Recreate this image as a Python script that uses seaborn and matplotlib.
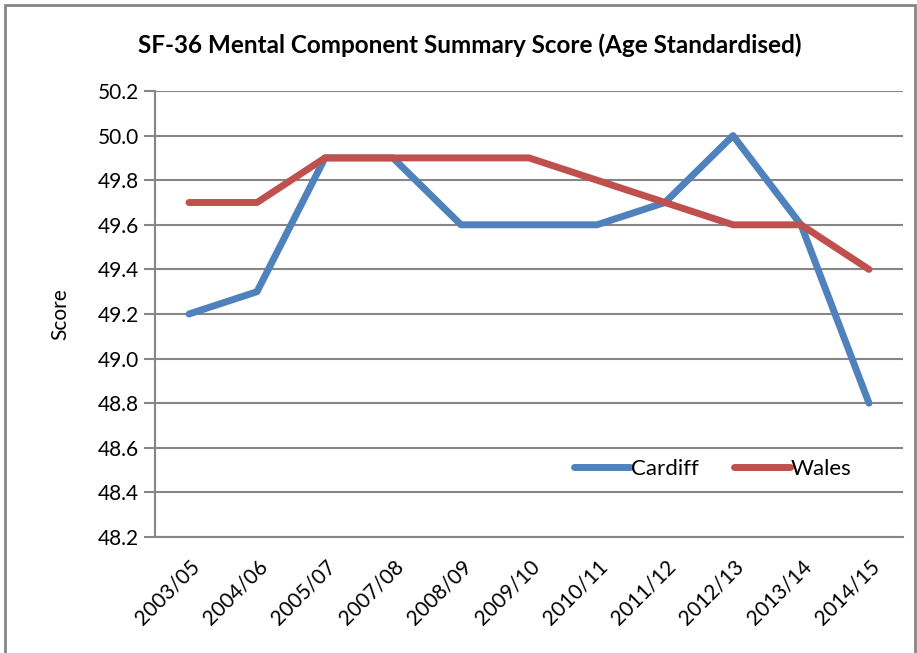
import pandas as pd
import numpy as np
import seaborn as sns
import matplotlib.pyplot as plt
from matplotlib.patches import Rectangle

# Datos del grafico
years = ['2003/05', '2004/06', '2005/07', '2007/08', '2008/09', '2009/10',
         '2010/11', '2011/12', '2012/13', '2013/14', '2014/15']
cardiff = [49.2, 49.3, 49.9, 49.9, 49.6, 49.6, 49.6, 49.7, 50.0, 49.6, 48.8]
wales = [49.7, 49.7, 49.9, 49.9, 49.9, 49.9, 49.8, 49.7, 49.6, 49.6, 49.4]
y_ticks = [48.2, 48.4, 48.6, 48.8, 49.0, 49.2, 49.4, 49.6, 49.8, 50.0, 50.2]

df = pd.DataFrame({
    'idx': list(range(len(years))) * 2,
    'Score': cardiff + wales,
    'Area': ['Cardiff'] * len(years) + ['Wales'] * len(years),
})

sns.set_style('white')
plt.rcParams['font.family'] = ['Lato', 'DejaVu Sans']
plt.rcParams['text.color'] = 'black'
plt.rcParams['xtick.color'] = 'black'
plt.rcParams['ytick.color'] = 'black'
plt.rcParams['axes.labelcolor'] = 'black'

fig = plt.figure(figsize=(9.17, 6.53), dpi=100)
ax = fig.add_axes([155 / 917, 1 - 537 / 653, 748 / 917, 446 / 653])

sns.lineplot(data=df, x='idx', y='Score', hue='Area',
             palette={'Cardiff': '#4F81BD', 'Wales': '#C0504D'},
             linewidth=5, ax=ax, solid_capstyle='round', solid_joinstyle='round')

ax.set_xlim(-0.5, len(years) - 0.5)
ax.set_ylim(48.2, 50.2)
ax.set_yticks(y_ticks)
ax.set_yticklabels([f'{v:.1f}' for v in y_ticks], fontsize=15)
ax.yaxis.grid(True, color='#868686', linewidth=1.5)
ax.set_axisbelow(True)

ax.set_xticks(range(len(years)))
ax.set_xticklabels(years, rotation=45, ha='right', rotation_mode='anchor', fontsize=15)
ax.set_xticks(np.arange(-0.5, len(years)), minor=True)
ax.tick_params(axis='x', which='major', length=0, pad=14, colors='black')
ax.tick_params(axis='x', which='minor', length=8, width=1.5, color='#868686', direction='out')
ax.tick_params(axis='y', length=8, width=1.5, color='#868686', labelcolor='black',
               direction='out', left=True)

for s in ['top', 'right']:
    ax.spines[s].set_visible(False)
for s in ['left', 'bottom']:
    ax.spines[s].set_color('#868686')
    ax.spines[s].set_linewidth(1.5)

ax.set_xlabel('')
ax.set_ylabel('Score', fontsize=15, labelpad=20)
fig.text(0.512, 1 - 45 / 653, 'SF-36 Mental Component Summary Score (Age Standardised)',
         fontsize=17.5, fontweight='bold', ha='center', va='center')

leg = ax.legend(loc='lower right', bbox_to_anchor=(0.958, 0.085), ncol=2, frameon=False,
                fontsize=16, handlelength=2.5, columnspacing=1.6, handletextpad=0.05)

# marco del grafico
fig.patches.append(Rectangle((5 / 917, -0.1), 910 / 917, 1.1 - 5 / 653, transform=fig.transFigure,
                             fill=False, edgecolor='#868686', linewidth=2))

plt.savefig('out.png', dpi=100)
